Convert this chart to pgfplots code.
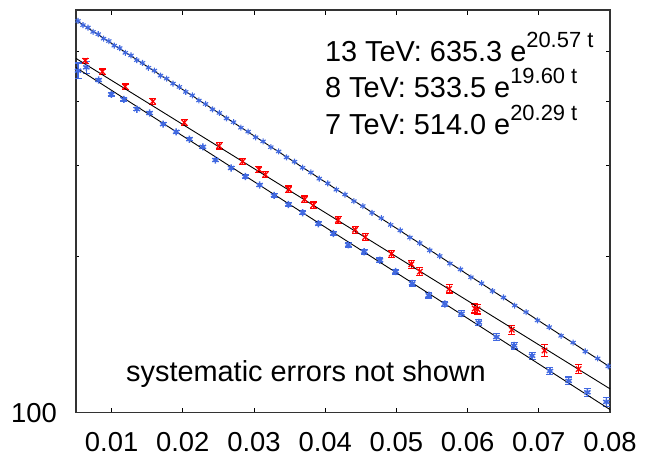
\documentclass[border=0pt]{standalone}
\usepackage{fontspec}
\setmainfont{Liberation Sans}
\usepackage{pgfplots}
\pgfplotsset{compat=1.18}
\definecolor{tblue}{RGB}{65,105,225}
\definecolor{tred}{RGB}{255,0,0}
\pgfplotstableread{
x y
0.00528 571.5
0.00598 560.9
0.00668 555.0
0.00740 544.2
0.00813 538.8
0.00887 528.1
0.00961 522.6
0.01037 512.0
0.01114 506.4
0.01193 495.9
0.01273 490.2
0.01353 479.8
0.01434 474.1
0.01517 464.0
0.01601 458.2
0.01687 448.1
0.01773 442.2
0.01862 432.4
0.01952 426.1
0.02041 416.7
0.02134 410.5
0.02226 401.1
0.02320 395.0
0.02417 385.7
0.02514 379.6
0.02614 370.4
0.02713 364.3
0.02816 355.4
0.02918 349.3
0.03023 340.5
0.03128 334.4
0.03236 325.9
0.03346 319.8
0.03457 311.4
0.03569 305.5
0.03682 297.4
0.03799 291.3
0.03917 283.3
0.04036 277.5
0.04156 269.7
0.04278 264.0
0.04403 256.3
0.04529 250.8
0.04658 243.3
0.04788 237.7
0.04919 230.6
0.05054 225.0
0.05190 218.0
0.05328 212.7
0.05468 205.9
0.05609 200.8
0.05752 194.2
0.05900 189.2
0.06047 182.7
0.06197 177.9
0.06350 171.8
0.06504 167.0
0.06661 161.1
0.06821 156.5
0.06982 150.8
0.07147 146.3
0.07313 140.8
0.07482 136.6
0.07653 131.3
0.07827 127.3
0.07975 122.9
}\tevthirteen
\pgfplotstableread{
x y e
0.0063 478.8 5.5
0.0087 456.0 5.5
0.0119 426.6 5
0.0158 399.6 5
0.0202 363.8 4.5
0.0251 327.8 4.5
0.0284 306.0 4
0.0307 295.0 4
0.0316 288.4 4
0.0349 270.2 4
0.0371 258.4 3.8
0.0383 251.5 3.8
0.0418 235.6 3.6
0.0442 225.7 3.5
0.0456 218.4 3.5
0.0493 202.8 3.3
0.0521 193.6 3.3
0.0533 187.4 3.2
0.0574 173.5 3.1
0.0610 159.0 3.2
0.0614 158.4 3.2
0.0662 144.6 2.8
0.0708 131.9 3.6
0.0756 121.4 2.5
}\tenteight
\pgfplotstableread{
x y e
0.00529 458.0 16
0.00645 464.9 13
0.00818 439.3 3
0.00996 412.2 3
0.01174 403.1 3
0.01356 386.0 2.5
0.01533 379.3 2.5
0.01725 361.1 2.5
0.01907 348.9 2.5
0.02094 337.7 2
0.02282 326.3 2
0.02459 307.8 2
0.02679 297.1 2
0.02879 285.9 2
0.03080 275.4 2
0.03282 263.0 2
0.03483 252.6 2
0.03684 243.4 2
0.03903 231.8 2
0.04114 221.9 2
0.04324 211.0 2
0.04548 204.6 2
0.04769 197.1 2
0.04989 187.4 2
0.05222 177.8 2
0.05456 168.6 2
0.05680 162.2 2
0.05914 155.4 2
0.06157 149.4 2
0.06405 140.0 2
0.06652 134.8 2
0.06905 128.8 2
0.07157 120.4 2
0.07420 115.2 2
0.07682 109.5 2
0.07948 104.9 2
}\tevseven
\begin{document}
\fontsize{27}{32}\selectfont
\begin{tikzpicture}
\path[use as bounding box] (-76bp,-47.3bp) rectangle (569bp,412.7bp);
\begin{axis}[
  scale only axis, width=534bp, height=402.7bp,
  xmin=0.005, xmax=0.08,
  ymode=log, ymin=100, ymax=600,
  xtick={0.01,0.02,0.03,0.04,0.05,0.06,0.07,0.08},
  xticklabels={0.01,0.02,0.03,0.04,0.05,0.06,0.07,0.08},
  ytick={100}, yticklabels={100},
  minor ytick={200,300,400,500},
  tick align=inside,
  major tick length=5bp, minor tick length=3.5bp,
  axis line style={black!80, line width=1.2bp},
  every tick/.style={black, line width=0.9bp},
  /pgf/number format/assume math mode=true,
  every tick label/.append style={font=\fontsize{27.5}{32}\selectfont},
  xticklabel style={inner sep=0pt, yshift=-19bp},
  yticklabel style={xshift=-10bp},
  clip=false,
]
\addplot[only marks, mark=asterisk, color=tblue, mark size=3bp, mark options={line width=1.1bp}]
  table[x=x, y=y] {\tevthirteen};
\addplot[only marks, mark=asterisk, color=tblue, mark size=3.6bp, mark options={line width=1.5bp},
  error bars/.cd, y dir=both, y explicit,
  error bar style={line width=1.2bp},
  error mark options={rotate=90, mark size=3.5bp, line width=1.2bp}]
  table[x=x, y=y, y error=e] {\tevseven};
\addplot[only marks, mark=x, color=tred, mark size=3.8bp, mark options={line width=1.3bp},
  error bars/.cd, y dir=both, y explicit,
  error bar style={line width=1.1bp},
  error mark options={rotate=90, mark size=3.5bp, line width=1.2bp}]
  table[x=x, y=y, y error=e] {\tenteight};
\addplot[black, line width=0.9bp] coordinates {(0.005,573.2) (0.08,122.55)};
\addplot[black, line width=0.9bp] coordinates {(0.005,483.7) (0.08,111.2)};
\addplot[black, line width=0.9bp] coordinates {(0.005,464.4) (0.08,101.4)};
\node[anchor=base west, inner sep=0pt, font=\fontsize{29}{34}\selectfont] at (axis description cs:0.466,0.8716)
  {13 TeV: 635.3 e\raisebox{14bp}{\fontsize{22}{22}\selectfont 20.57 t}};
\node[anchor=base west, inner sep=0pt, font=\fontsize{29}{34}\selectfont] at (axis description cs:0.466,0.7827)
  {8 TeV: 533.5 e\raisebox{14bp}{\fontsize{22}{22}\selectfont 19.60 t}};
\node[anchor=base west, inner sep=0pt, font=\fontsize{29}{34}\selectfont] at (axis description cs:0.466,0.6908)
  {7 TeV: 514.0 e\raisebox{14bp}{\fontsize{22}{22}\selectfont 20.29 t}};
\node[anchor=base west, inner sep=0pt, font=\fontsize{29}{34}\selectfont] at (axis description cs:0.0936,0.077)
  {systematic errors not shown};
\end{axis}
\end{tikzpicture}
\end{document}
